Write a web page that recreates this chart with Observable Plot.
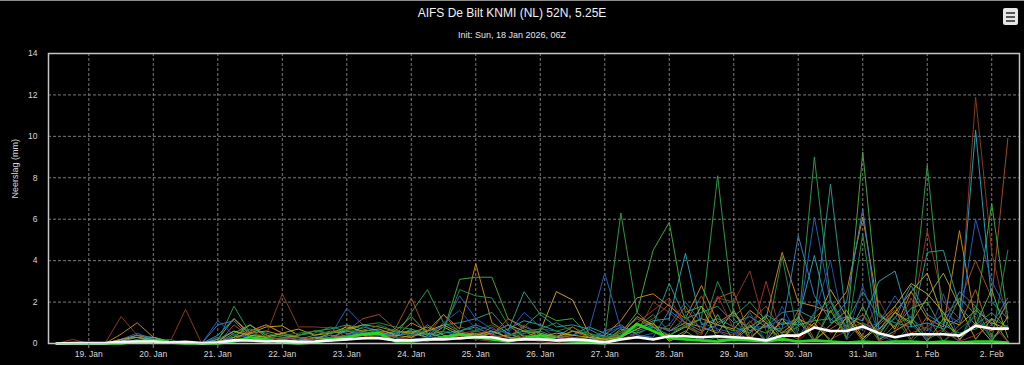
<!DOCTYPE html>
<html><head><meta charset="utf-8">
<script src="https://cdn.jsdelivr.net/npm/d3@7"></script>
<script src="https://cdn.jsdelivr.net/npm/@observablehq/plot@0.6"></script>
<style>
html,body{margin:0;padding:0;background:#000;}
body{width:1024px;height:365px;overflow:hidden;font-family:"Liberation Sans",Arial,sans-serif;}
#head{position:relative;height:43px;border-top:1px solid #8c8c8c;}
#title{position:absolute;left:0;width:1024px;top:4px;text-align:center;color:#f2f2f2;font-size:12px;line-height:16px;}
#sub{position:absolute;left:0;width:1024px;top:28px;text-align:center;color:#e6e6e6;font-size:9px;line-height:12px;}
#menu{position:absolute;left:1003px;top:7px;width:15px;height:17px;background:#e6e6e6;border-radius:2px;}
#menu i{position:absolute;left:3px;width:9px;height:2px;background:#555;}
</style></head>
<body>
<div id="head"><div id="title">AIFS De Bilt KNMI (NL) 52N, 5.25E</div><div id="sub">Init: Sun, 18 Jan 2026, 06Z</div><div id="menu"><i style="top:4px"></i><i style="top:8px"></i><i style="top:12px"></i></div></div>
<div id="chart"></div>
<script>
// 6-hourly values from 18 Jan 2026 12Z to 2 Feb 2026 06Z (60 steps)
const m01 = [0,0.2, 0,0,1.3,0.4, 0,0,1.65,0, 0,0.3,0.9,0.4, 2.4,0.8,0.8,0.75, 0.3,0.2,0.4,0.2, 0.3,0.1,0.6,0.3, 0.2,0.1,0.5,0.2, 0.1,0,0.3,0.1, 0,0.2,0.5,2.0, 1.5,0.8,0.4,2.2, 2.0,3.5,0.6,0.3, 0.8,1.2,0.5,0.9, 0.4,2.1,0.6,1.0, 5.45,2.0,1.2,11.9, 4.4,1.0];
const m02 = [0,0, 0,0,0.2,0.3, 0.1,0,0,0, 0,0.9,0.3,0.2, 0.1,0.2,0.1,0.3, 0.6,1.2,1.4,0.7, 2.2,0.4,1.4,0.5, 0.3,0.8,0.2,0.4, 0.2,0.1,0.6,0.3, 0.1,0.4,0.8,1.2, 1.9,1.0,2.3,0.6, 0.4,1.0,1.8,0.6, 0.2,1.2,2.0,0.7, 1.0,0.6,1.8,0.5, 0.8,1.4,2.0,4.0, 2.2,9.9];
const m03 = [0,0, 0,0,0.45,1.0, 0.3,0,0,0, 0.3,0.2,0.6,0.9, 0.5,0.3,0.2,0.1, 0.9,0.5,0.5,0.3, 1.0,0.6,1.4,0.7, 3.85,1.0,0.5,0.2, 0.4,0.3,0.8,0.3, 0.4,1.1,2.2,2.4, 1.8,1.2,2.8,1.0, 1.5,0.6,1.2,4.4, 2.0,1.8,1.5,2.5, 6.1,1.5,0.7,2.5, 1.2,0.8,5.45,1.0, 0.6,2.0];
const m04 = [0,0, 0,0,0.2,0.4, 0.2,0.1,0,0, 0.2,1.2,0.5,0.8, 0.85,0.4,0.6,0.5, 0.6,0.4,0.3,0.4, 0.5,0.3,0.8,0.4, 0.3,0.5,0.9,0.3, 0.6,2.5,2.1,0.5, 0.1,0.3,0.9,0.6, 0.4,0.8,1.2,0.9, 0.7,1.6,1.0,0.5, 1.2,0.8,2.6,1.3, 0.9,0.4,1.5,2.5, 3.4,1.2,0.9,1.6, 1.0,0.7];
const m05 = [0,0, 0,0,0,0.1, 0.2,0.1,0,0, 0.1,1.8,0.5,0.3, 0.2,0.4,0.6,0.7, 0.9,0.7,0.5,0.3, 1.5,2.6,1.0,0.6, 0.4,0.3,0.2,0.5, 0.6,0.3,0.2,0.1, 0.3,6.3,1.5,0.8, 0.4,0.9,1.2,8.1, 1.3,2.0,1.1,0.5, 0.8,9.0,2.1,0.8, 1.4,0.5,1.5,0.9, 8.6,0.9,0.5,0.7, 1.2,0.8];
const m06 = [0,0, 0,0,0,0, 0,0.1,0,0, 0,0.3,0.9,0.4, 0.3,0.2,0.4,0.6, 0.5,0.4,0.6,0.3, 0.7,0.4,0.6,3.1, 3.2,3.2,1.2,0.8, 1.5,1.1,1.2,0.4, 0.2,0.5,1.5,4.5, 5.85,1.5,1.8,0.9, 0.6,0.8,0.5,1.0, 0.9,1.1,1.2,0.6, 9.25,1.4,0.8,1.7, 2.0,0.6,2.2,1.4, 6.75,1.2];
const m07 = [0,0, 0,0,0.1,0.3, 0.2,0.1,0,0, 0.4,1.2,0.4,0.3, 0.2,0.1,0.3,0.2, 0.4,0.8,0.6,0.5, 0.6,0.4,0.9,1.0, 1.2,1.5,0.6,2.5, 1.4,0.8,0.9,0.7, 0.3,0.8,0.6,0.9, 2.9,1.2,1.5,1.8, 1.0,1.3,0.8,1.5, 1.6,1.2,7.7,1.0, 2.5,1.3,1.0,0.8, 4.4,4.5,1.8,0.9, 1.5,0.7];
const m08 = [0,0, 0,0,0,0.2, 0.3,0.1,0,0, 0.2,0.6,0.3,0.2, 0.1,0.2,0.2,0.4, 0.3,0.6,0.4,0.5, 0.6,0.3,0.5,0.6, 0.8,0.4,0.7,1.1, 0.9,0.6,0.4,0.8, 0.5,0.3,0.7,1.1, 1.2,4.35,0.9,1.2, 0.8,0.5,1.4,0.9, 1.2,4.25,1.0,1.3, 1.1,3.0,3.5,0.8, 1.0,0.7,1.2,10.3, 2.0,1.2];
const m09 = [0,0, 0,0,0.2,0.5, 0.2,0,0,0, 1.1,0.4,0.3,0.2, 0.1,0.2,0.3,0.4, 1.7,0.9,0.5,0.4, 0.5,0.6,0.8,2.3, 1.2,0.7,0.5,1.5, 0.8,0.3,0.4,0.6, 3.4,0.7,0.3,0.5, 0.9,2.0,1.0,0.7, 0.5,0.8,0.8,1.2, 0.9,6.1,2.0,0.6, 0.7,1.0,2.3,1.2, 0.6,1.5,1.0,6.0, 3.0,1.5];
const m10 = [0,0, 0,0,0.1,0.4, 0.3,0.1,0,0, 0.9,1.1,0.3,0.1, 0.2,0.3,0.2,0.3, 0.6,0.5,0.3,0.2, 0.4,0.5,0.3,0.6, 0.9,0.6,0.3,0.8, 0.5,0.2,0.3,0.2, 0.6,0.9,0.4,0.3, 1.6,1.0,0.6,0.9, 1.4,0.6,0.8,0.7, 5.2,2.3,1.1,2.0, 6.5,0.7,1.2,2.8, 1.4,0.9,2.5,1.8, 0.9,2.2];
const m11 = [0,0, 0,0,0,0.1, 0,0,0,0, 0,0.2,0.6,0.9, 0.5,0.3,0.2,0.3, 0.4,0.3,0.5,0.7, 0.3,0.9,0.4,0.3, 0.6,0.4,1.2,0.7, 0.3,0.4,0.3,0.2, 0.2,0.6,1.2,0.8, 0.7,1.8,0.6,2.2, 2.5,0.3,0.9,0.1, 1.6,0.2,0.7,1.2, 0.1,0.9,1.6,0.2, 1.3,0.1,0.9,2.6, 0.3,0.8];
const m12 = [0,0, 0,0,0,0, 0.1,0.2,0,0, 0,0.4,0.7,0.5, 0.3,0.4,0.5,0.8, 0.6,0.9,1.0,0.8, 0.7,0.4,0.6,2.6, 2.3,2.2,0.9,0.6, 0.7,1.0,0.6,0.5, 0.3,0.4,0.8,1.4, 0.6,0.8,0.5,3.0, 1.2,0.2,0.1,4.2, 0.3,1.5,2.1,0.2, 5.3,0.1,0.9,1.3, 0.2,0.6,0.1,1.8, 0.2,4.5];
const m13 = [0,0, 0,0,0.2,0.3, 0.1,0,0,0, 0.1,0.3,0.5,0.6, 0.4,0.3,0.2,0.5, 0.7,0.9,0.8,0.6, 0.5,0.8,0.4,0.2, 0.3,0.5,0.9,0.6, 0.2,0.3,0.6,0.4, 0.2,0.4,1.3,0.9, 0.6,1.0,0.8,0.5, 1.6,0.2,1.0,0.1, 1.3,0.1,0.9,1.6, 0.3,0.7,1.5,1.0, 2.2,3.4,1.8,0.2, 1.2,0.1];
const m14 = [0,0, 0,0,0,0.1, 0.3,0.1,0,0, 0,0.5,0.9,0.3, 0.2,0.1,0.3,0.2, 0.3,0.5,0.4,0.6, 1.3,0.5,0.3,0.4, 0.5,0.3,0.4,0.6, 0.5,0.3,0.2,0.3, 0.1,0.7,0.5,0.8, 0.2,0.6,0.1,1.4, 0.1,0.8,1.3,0.2, 1.1,0.1,1.6,0.3, 1.8,0.2,0.6,1.1, 0.1,1.2,0.2,0.9, 2.6,0.3];
const m15 = [0,0, 0,0,0,0.1, 0,0,0,0, 0.3,0.2,0.1,0.2, 0.1,0.1,0.2,0.1, 0.4,0.6,0.3,0.2, 0.2,0.3,1.0,1.6, 0.7,0.5,0.9,0.4, 0.3,0.2,0.1,0.2, 0.5,0.8,0.4,0.9, 0.6,1.2,0.8,0.6, 0.2,1.5,0.1,1.8, 0.3,1.4,4.0,0.2, 2.8,0.4,0.1,0.9, 0.2,2.4,0.1,1.5, 0.2,0.9];
const m16 = [0,0, 0,0,0,0, 0,0,0,0, 0,0.1,0.6,0.3, 0.2,0.3,0.2,0.1, 0.3,0.2,0.4,0.3, 0.2,0.1,0.3,0.5, 0.6,0.4,0.3,0.9, 0.4,0.2,0.3,0.1, 0.2,0.4,1.0,1.6, 2.2,0.9,0.5,2.3, 0.7,0.1,3.0,0.3, 0.1,0.9,0.2,0.6, 1.4,0.1,0.5,2.2, 0.3,0.7,0.1,0.4, 0.9,0.1];
const m17 = [0,0, 0,0,0,0.1, 0,0,0,0, 0.1,0.6,0.4,0.3, 0.5,0.7,0.4,0.5, 0.8,0.6,0.7,0.4, 0.3,0.6,0.9,0.5, 0.4,0.6,0.3,0.2, 0.3,0.5,0.4,0.3, 0.2,0.3,0.7,1.0, 0.1,0.5,1.8,0.2, 0.2,0.9,0.1,1.2, 0.3,1.0,0.1,1.3, 0.2,1.0,1.8,2.9, 2.4,1.5,0.2,1.0, 0.1,1.3];
const m18 = [0,0, 0,0,0,0, 0,0,0,0, 0,0.2,0.3,0.2, 0.4,0.5,0.6,0.5, 0.7,0.5,0.9,0.6, 0.4,0.7,0.5,0.8, 0.6,0.9,0.4,0.5, 0.7,0.6,0.8,0.4, 0.3,0.5,0.9,0.7, 0.2,1.4,0.1,0.3, 0.2,1.1,0.1,0.7, 1.2,0.1,1.8,0.2, 1.0,0.2,1.3,0.1, 0.8,0.1,0.7,1.3, 0.2,0.9];
const members = [m01,m02,m03,m04,m05,m06,m07,m08,m09,m10,m11,m12,m13,m14,m15,m16,m17,m18];
const memberColors = ["#8e3b1f","#a5501f","#c98a22","#c9a82c","#2f9e4a","#44ad3a","#2c9d8c","#2ba3b5","#2462c4","#3a80bd","#b06020","#249048","#a3a534","#5cb34a","#2d4fae","#a3352b","#b9ad22","#1e7a3c"];
const control = [0,0, 0,0,0,0.1, 0.15,0.05,0,0, 0,0.1,0.3,0.2, 0.05,0,0.05,0.2, 0.3,0.45,0.5,0.1, 0.1,0.2,0.3,0.45, 0.3,0.2,0.1,0.25, 0.4,0.15,0.1,0.05, 0,0.3,0.95,0.6, 0.25,0.2,0.15,0.1, 0.2,0.15,0.1,0.2, 0.1,0.15,0.1,0.05, 0.1,0.05,0.1,0.1, 0.05,0.1,0.05,0.1, 0.1,0.05];
const mean = [0,0.02, 0.02,0.02,0.08,0.1, 0.1,0.05,0.08,0.02, 0.05,0.15,0.15,0.1, 0.12,0.08,0.1,0.15, 0.2,0.25,0.25,0.15, 0.15,0.2,0.2,0.25, 0.3,0.3,0.15,0.2, 0.2,0.15,0.2,0.15, 0.05,0.2,0.3,0.2, 0.35,0.35,0.3,0.35, 0.3,0.25,0.15,0.38, 0.38,0.77,0.6,0.6, 0.82,0.5,0.3,0.45, 0.45,0.45,0.38,0.85, 0.72,0.72];
const yTicks = [0,2,4,6,8,10,12,14];
const yLabel = "Neerslag (mm)";

[...members, control, mean].forEach((a, k) => { if (a.length !== 60) throw new Error("series " + k + " has " + a.length); });

const start = Date.UTC(2026, 0, 18, 12);
const step = 6 * 3600 * 1000;
const times = mean.map((_, i) => new Date(start + i * step));
const dayTicks = d3.utcDay.range(new Date(Date.UTC(2026, 0, 19)), new Date(Date.UTC(2026, 1, 3)));

const memberRows = members.flatMap((vals, k) => vals.map((v, i) => ({t: times[i], v, m: k, c: memberColors[k]})));
const controlRows = control.map((v, i) => ({t: times[i], v}));
const meanRows = mean.map((v, i) => ({t: times[i], v}));

const chart = Plot.plot({
  width: 1024, height: 321,
  marginLeft: 48, marginRight: 5, marginTop: 9, marginBottom: 22,
  style: {background: "#000", color: "#d0d0d0", fontFamily: "'Liberation Sans', Arial, sans-serif", fontSize: "8.5px"},
  x: {type: "utc", domain: [new Date(Date.UTC(2026, 0, 18, 9)), new Date(Date.UTC(2026, 1, 2, 10, 20))]},
  y: {domain: [0, 14]},
  color: {type: "identity"},
  marks: [
    Plot.ruleY(yTicks.slice(1, -1), {stroke: "#7a7a7a", strokeDasharray: "3,2", strokeWidth: 1}),
    Plot.ruleX(dayTicks, {stroke: "#7a7a7a", strokeDasharray: "3,2", strokeWidth: 1}),
    Plot.line(memberRows, {x: "t", y: "v", z: "m", stroke: "c", strokeWidth: 1, strokeOpacity: 0.95}),
    Plot.line(controlRows, {x: "t", y: "v", stroke: "#1fdc1f", strokeWidth: 2.6}),
    Plot.line(meanRows, {x: "t", y: "v", stroke: "#ffffff", strokeWidth: 2.6}),
    Plot.frame({stroke: "#c4c4c4", strokeWidth: 1.5}),
    Plot.axisX({ticks: dayTicks, tickFormat: d3.utcFormat("%-d. %b"), tickSize: 5, tickPadding: 2, stroke: "#8a8a8a", fill: "#d8d8d8", label: null}),
    Plot.axisY({ticks: yTicks, tickSize: 0, tickPadding: 11, fill: "#d8d8d8", label: null}),
    Plot.text([yLabel], {frameAnchor: "left", dx: -33, rotate: -90, text: d => d, fill: "#d8d8d8", fontSize: 9})
  ]
});
document.getElementById("chart").appendChild(chart);
</script>
</body></html>
